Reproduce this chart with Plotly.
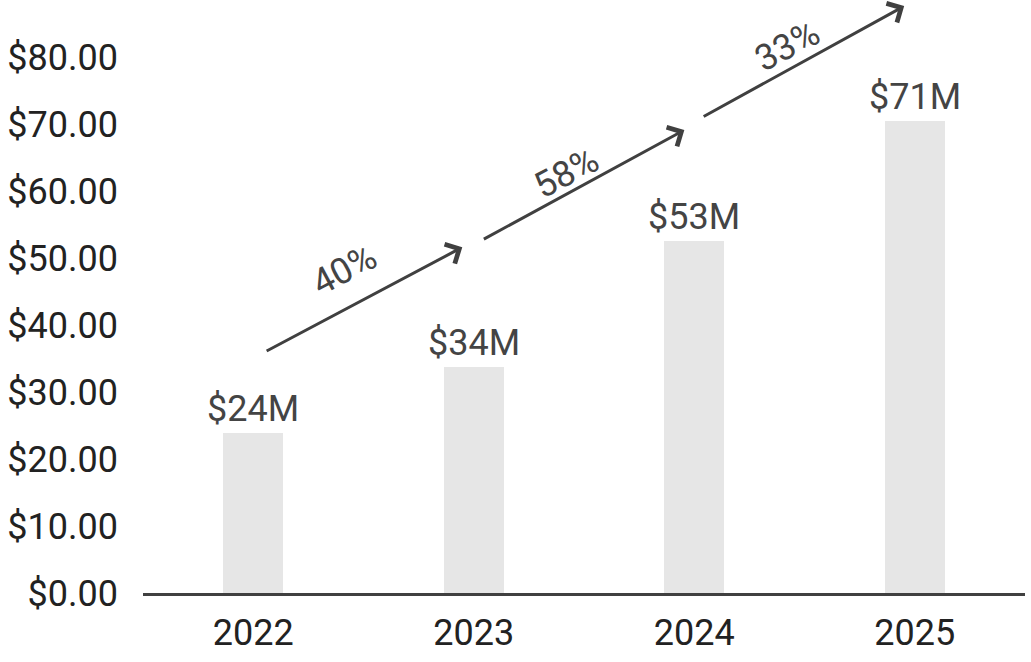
import plotly.graph_objects as go

years = ["2022", "2023", "2024", "2025"]
revenue = [23.9, 33.7, 52.5, 70.4]
value_labels = ["$24M", "$34M", "$53M", "$71M"]
growth_labels = ["40%", "58%", "33%"]
y_ticks = [0, 10, 20, 30, 40, 50, 60, 70, 80]

FONT = "Roboto"
DARK = "#404040"

fig = go.Figure()
fig.add_trace(go.Bar(
    x=years, y=revenue, width=0.27,
    marker=dict(color="#e6e6e6", line=dict(width=0)),
    text=value_labels, textposition="outside", constraintext="none",
    textfont=dict(family=FONT, size=36, color="#444444"),
    cliponaxis=False, hoverinfo="skip",
))

# growth arrows (layout geometry, in category-index / value coordinates)
arrow_geom = [
    ((0.054, 36.0), (0.948, 51.6), (0.413, 48.2)),
    ((1.039, 52.7), (1.955, 69.1), (1.420, 62.7)),
    ((2.036, 71.0), (2.952, 87.6), (2.422, 81.6)),
]
for lab, (start, end, lpos) in zip(growth_labels, arrow_geom):
    fig.add_annotation(
        x=end[0], y=end[1], ax=start[0], ay=start[1],
        xref="x", yref="y", axref="x", ayref="y",
        text="", showarrow=True, arrowhead=4, arrowsize=1.4, arrowwidth=3,
        arrowcolor=DARK,
    )
    fig.add_annotation(
        x=lpos[0], y=lpos[1], xref="x", yref="y",
        text=lab, showarrow=False, textangle=-28,
        font=dict(family=FONT, size=36, color="#444444"),
    )

fig.update_layout(
    width=1031, height=662,
    margin=dict(l=143, r=6, t=3, b=69, autoexpand=False),
    plot_bgcolor="white", paper_bgcolor="white",
    showlegend=False, bargap=0, hovermode=False,
    font=dict(family=FONT, size=36, color="#222222"),
)
fig.update_xaxes(
    showline=True, linecolor=DARK, linewidth=3, ticks="", automargin=False,
    showgrid=False, tickfont=dict(family=FONT, size=36, color="#222222"),
    ticklabelstandoff=6,
)
fig.update_yaxes(
    range=[0, 88.06], tickvals=y_ticks, automargin=False,
    ticktext=[f"${v:.2f}" for v in y_ticks],
    showgrid=False, zeroline=False, showline=False, ticks="",
    tickfont=dict(family=FONT, size=36, color="#222222"),
    ticklabelstandoff=24,
)

fig.write_html(
    "out.html",
    config={"displayModeBar": False},
    post_script="document.body.style.margin='0';document.body.style.overflow='hidden';",
)
